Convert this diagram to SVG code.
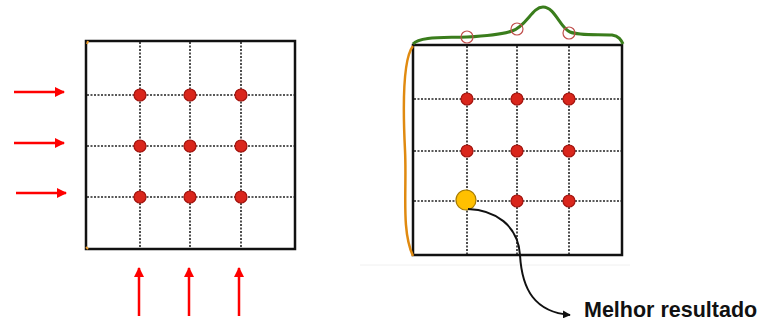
<svg xmlns="http://www.w3.org/2000/svg" width="760" height="324" viewBox="0 0 760 324">
<defs>
<style>
.box{fill:none;stroke:#111;stroke-width:2.5}
.grid{stroke:#222;stroke-width:1.6;stroke-dasharray:2 1.5;fill:none}
.dot{fill:#d9261c;stroke:#a3120c;stroke-width:1.2}
.best{fill:#ffc000;stroke:#a87c00;stroke-width:1.2}
.ring{fill:none;stroke:#c0504d;stroke-width:1.2}
.red{stroke:#ff0000;stroke-width:2.5;fill:none}
.lbl{font-family:"Liberation Sans",Arial,sans-serif;font-weight:bold;font-size:21.5px;fill:#111}
</style>
<marker id="ra" viewBox="0 0 10 10" refX="9" refY="5" markerWidth="4" markerHeight="4" orient="auto" markerUnits="strokeWidth">
<path d="M0,0 L10,5 L0,10 z" fill="#ff0000"/>
</marker>
<marker id="ka" viewBox="0 0 10 10" refX="9" refY="5" markerWidth="4" markerHeight="4" orient="auto" markerUnits="strokeWidth">
<path d="M0,0 L10,5 L0,10 z" fill="#111"/>
</marker>
</defs>
<rect width="760" height="324" fill="#fff"/>
<line x1="360" y1="265" x2="630" y2="265" stroke="#f0f0f0" stroke-width="1"/>

<g id="left-grid">
<line class="grid" x1="140" y1="42" x2="140" y2="248"/>
<line class="grid" x1="190" y1="42" x2="190" y2="248"/>
<line class="grid" x1="241" y1="42" x2="241" y2="248"/>
<line class="grid" x1="87" y1="95" x2="294" y2="95"/>
<line class="grid" x1="87" y1="146" x2="294" y2="146"/>
<line class="grid" x1="87" y1="197" x2="294" y2="197"/>
<rect class="box" x="86" y="41" width="209" height="208"/>
<path d="M87,44 L88,41" stroke="#f0a030" stroke-width="2"/>
<path d="M86,247 L88,249" stroke="#f0a030" stroke-width="2"/>
</g>
<g id="left-dots">
<circle class="dot" cx="140" cy="95" r="6"/>
<circle class="dot" cx="190" cy="95" r="6"/>
<circle class="dot" cx="241" cy="95" r="6"/>
<circle class="dot" cx="140" cy="146" r="6"/>
<circle class="dot" cx="190" cy="146" r="6"/>
<circle class="dot" cx="241" cy="146" r="6"/>
<circle class="dot" cx="140" cy="197" r="6"/>
<circle class="dot" cx="190" cy="197" r="6"/>
<circle class="dot" cx="241" cy="197" r="6"/>
</g>
<g id="left-arrows">
<line class="red" x1="14" y1="92" x2="64" y2="92" marker-end="url(#ra)"/>
<line class="red" x1="14" y1="143" x2="64" y2="143" marker-end="url(#ra)"/>
<line class="red" x1="16" y1="193" x2="66" y2="193" marker-end="url(#ra)"/>
<line class="red" x1="139" y1="316" x2="139" y2="268" marker-end="url(#ra)"/>
<line class="red" x1="189" y1="316" x2="189" y2="268" marker-end="url(#ra)"/>
<line class="red" x1="239" y1="316" x2="239" y2="268" marker-end="url(#ra)"/>
</g>

<g id="right-grid">
<line class="grid" x1="467" y1="46" x2="467" y2="254"/>
<line class="grid" x1="517" y1="46" x2="517" y2="254"/>
<line class="grid" x1="569" y1="46" x2="569" y2="254"/>
<line class="grid" x1="414" y1="99" x2="621" y2="99"/>
<line class="grid" x1="414" y1="151" x2="621" y2="151"/>
<line class="grid" x1="414" y1="201" x2="621" y2="201"/>
<rect class="box" x="413" y="45" width="209" height="210"/>
</g>
<g id="curves">
<path d="M413,44 C420,36 445,38 467,37 C485,36 500,35 512,31 C527,26 532,7 543,7 C555,7 560,28 570,32 C580,36 600,34 612,35 C619,36 621,40 623,44" fill="none" stroke="#3a7d1c" stroke-width="3"/>
<path d="M413,46 C402,60 403,110 405,150 C407,190 401,230 413,256" fill="none" stroke="#e08a10" stroke-width="2.5"/>
<circle class="ring" cx="467" cy="37" r="6"/>
<circle class="ring" cx="517" cy="29" r="6"/>
<circle class="ring" cx="569" cy="33" r="6"/>
</g>
<g id="right-dots">
<circle class="dot" cx="467" cy="99" r="6"/>
<circle class="dot" cx="517" cy="99" r="6"/>
<circle class="dot" cx="569" cy="99" r="6"/>
<circle class="dot" cx="467" cy="151" r="6"/>
<circle class="dot" cx="517" cy="151" r="6"/>
<circle class="dot" cx="569" cy="151" r="6"/>
<circle class="dot" cx="517" cy="201" r="6"/>
<circle class="dot" cx="569" cy="201" r="6"/>
<circle class="best" cx="466" cy="200" r="10"/>
</g>
<g id="connectors">
<path d="M468,209 C495,210 518,225 520,255 C522,290 535,312 570,315" fill="none" stroke="#111" stroke-width="2" marker-end="url(#ka)"/>
</g>
<g id="label">
<text class="lbl" x="584" y="317">Melhor resultado</text>
</g>
</svg>
